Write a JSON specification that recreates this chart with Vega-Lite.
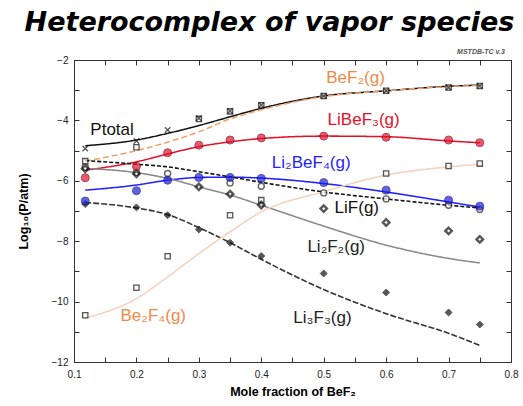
{
  "$schema": "https://vega.github.io/schema/vega-lite/v6.json",
  "width": 437,
  "height": 302,
  "autosize": {"type": "none"},
  "padding": {"left": 74, "top": 60, "right": 12, "bottom": 44},
  "background": "white",
  "title": {
    "text": "Heterocomplex of vapor species",
    "font": "DejaVu Sans",
    "fontSize": 27,
    "fontWeight": "bold",
    "fontStyle": "italic",
    "color": "#000",
    "anchor": "middle",
    "dx": -23,
    "offset": 11
  },
  "config": {
    "view": {"stroke": "#333", "strokeWidth": 1},
    "axis": {
      "grid": false,
      "domain": false,
      "tickSize": -5,
      "tickColor": "#333",
      "labelFont": "Liberation Sans",
      "labelFontSize": 10,
      "labelColor": "#222",
      "titleFont": "Liberation Sans",
      "titleFontSize": 12.5,
      "titleFontWeight": "bold",
      "titleColor": "#000"
    }
  },
  "datasets": {
    "lines": [
      {"s": "Ptotal", "x": 0.118, "y": -4.84}, {"s": "Ptotal", "x": 0.2, "y": -4.65}, {"s": "Ptotal", "x": 0.25, "y": -4.43}, {"s": "Ptotal", "x": 0.3, "y": -4.17}, {"s": "Ptotal", "x": 0.35, "y": -3.88}, {"s": "Ptotal", "x": 0.4, "y": -3.6}, {"s": "Ptotal", "x": 0.5, "y": -3.19}, {"s": "Ptotal", "x": 0.6, "y": -3.02}, {"s": "Ptotal", "x": 0.7, "y": -2.87}, {"s": "Ptotal", "x": 0.75, "y": -2.83},
      {"s": "BeF2", "x": 0.118, "y": -5.35}, {"s": "BeF2", "x": 0.2, "y": -5.0}, {"s": "BeF2", "x": 0.25, "y": -4.72}, {"s": "BeF2", "x": 0.3, "y": -4.38}, {"s": "BeF2", "x": 0.35, "y": -3.95}, {"s": "BeF2", "x": 0.4, "y": -3.65}, {"s": "BeF2", "x": 0.5, "y": -3.21}, {"s": "BeF2", "x": 0.6, "y": -3.02}, {"s": "BeF2", "x": 0.7, "y": -2.88}, {"s": "BeF2", "x": 0.75, "y": -2.84},
      {"s": "LiBeF3", "x": 0.118, "y": -5.65}, {"s": "LiBeF3", "x": 0.2, "y": -5.37}, {"s": "LiBeF3", "x": 0.25, "y": -5.11}, {"s": "LiBeF3", "x": 0.3, "y": -4.87}, {"s": "LiBeF3", "x": 0.35, "y": -4.71}, {"s": "LiBeF3", "x": 0.4, "y": -4.6}, {"s": "LiBeF3", "x": 0.5, "y": -4.52}, {"s": "LiBeF3", "x": 0.6, "y": -4.54}, {"s": "LiBeF3", "x": 0.7, "y": -4.68}, {"s": "LiBeF3", "x": 0.75, "y": -4.74},
      {"s": "Li2BeF4", "x": 0.118, "y": -6.31}, {"s": "Li2BeF4", "x": 0.2, "y": -6.14}, {"s": "Li2BeF4", "x": 0.25, "y": -5.98}, {"s": "Li2BeF4", "x": 0.3, "y": -5.89}, {"s": "Li2BeF4", "x": 0.35, "y": -5.88}, {"s": "Li2BeF4", "x": 0.4, "y": -5.91}, {"s": "Li2BeF4", "x": 0.5, "y": -6.09}, {"s": "Li2BeF4", "x": 0.6, "y": -6.37}, {"s": "Li2BeF4", "x": 0.7, "y": -6.7}, {"s": "Li2BeF4", "x": 0.75, "y": -6.87},
      {"s": "LiF", "x": 0.118, "y": -5.33}, {"s": "LiF", "x": 0.2, "y": -5.45}, {"s": "LiF", "x": 0.25, "y": -5.54}, {"s": "LiF", "x": 0.3, "y": -5.7}, {"s": "LiF", "x": 0.35, "y": -5.87}, {"s": "LiF", "x": 0.4, "y": -6.05}, {"s": "LiF", "x": 0.5, "y": -6.37}, {"s": "LiF", "x": 0.6, "y": -6.6}, {"s": "LiF", "x": 0.7, "y": -6.81}, {"s": "LiF", "x": 0.75, "y": -6.9},
      {"s": "Li2F2", "x": 0.118, "y": -5.59}, {"s": "Li2F2", "x": 0.2, "y": -5.73}, {"s": "Li2F2", "x": 0.25, "y": -5.92}, {"s": "Li2F2", "x": 0.3, "y": -6.2}, {"s": "Li2F2", "x": 0.35, "y": -6.47}, {"s": "Li2F2", "x": 0.4, "y": -6.81}, {"s": "Li2F2", "x": 0.5, "y": -7.5}, {"s": "Li2F2", "x": 0.6, "y": -8.13}, {"s": "Li2F2", "x": 0.7, "y": -8.57}, {"s": "Li2F2", "x": 0.75, "y": -8.72},
      {"s": "Li3F3", "x": 0.118, "y": -6.72}, {"s": "Li3F3", "x": 0.2, "y": -6.9}, {"s": "Li3F3", "x": 0.25, "y": -7.12}, {"s": "Li3F3", "x": 0.3, "y": -7.55}, {"s": "Li3F3", "x": 0.35, "y": -8.05}, {"s": "Li3F3", "x": 0.4, "y": -8.6}, {"s": "Li3F3", "x": 0.5, "y": -9.6}, {"s": "Li3F3", "x": 0.6, "y": -10.4}, {"s": "Li3F3", "x": 0.7, "y": -11.05}, {"s": "Li3F3", "x": 0.75, "y": -11.45},
      {"s": "Be2F4", "x": 0.118, "y": -10.55}, {"s": "Be2F4", "x": 0.2, "y": -9.9}, {"s": "Be2F4", "x": 0.25, "y": -9.18}, {"s": "Be2F4", "x": 0.3, "y": -8.41}, {"s": "Be2F4", "x": 0.35, "y": -7.69}, {"s": "Be2F4", "x": 0.4, "y": -7.03}, {"s": "Be2F4", "x": 0.5, "y": -6.36}, {"s": "Be2F4", "x": 0.6, "y": -5.81}, {"s": "Be2F4", "x": 0.7, "y": -5.54}, {"s": "Be2F4", "x": 0.75, "y": -5.45}
    ],
    "pts": [
      {"s": "Ptotal", "x": 0.118, "y": -4.93}, {"s": "Ptotal", "x": 0.2, "y": -4.68}, {"s": "Ptotal", "x": 0.25, "y": -4.32}, {"s": "Ptotal", "x": 0.3, "y": -3.93}, {"s": "Ptotal", "x": 0.35, "y": -3.69}, {"s": "Ptotal", "x": 0.4, "y": -3.49}, {"s": "Ptotal", "x": 0.5, "y": -3.19}, {"s": "Ptotal", "x": 0.6, "y": -3.02}, {"s": "Ptotal", "x": 0.7, "y": -2.91}, {"s": "Ptotal", "x": 0.75, "y": -2.86},
      {"s": "BeF2", "x": 0.118, "y": -5.35}, {"s": "BeF2", "x": 0.2, "y": -4.89}, {"s": "BeF2", "x": 0.3, "y": -3.95}, {"s": "BeF2", "x": 0.35, "y": -3.7}, {"s": "BeF2", "x": 0.4, "y": -3.5}, {"s": "BeF2", "x": 0.5, "y": -3.19}, {"s": "BeF2", "x": 0.6, "y": -3.02}, {"s": "BeF2", "x": 0.7, "y": -2.91}, {"s": "BeF2", "x": 0.75, "y": -2.86},
      {"s": "LiBeF3", "x": 0.118, "y": -5.9}, {"s": "LiBeF3", "x": 0.2, "y": -5.52}, {"s": "LiBeF3", "x": 0.25, "y": -5.07}, {"s": "LiBeF3", "x": 0.3, "y": -4.82}, {"s": "LiBeF3", "x": 0.35, "y": -4.65}, {"s": "LiBeF3", "x": 0.4, "y": -4.58}, {"s": "LiBeF3", "x": 0.5, "y": -4.52}, {"s": "LiBeF3", "x": 0.6, "y": -4.56}, {"s": "LiBeF3", "x": 0.7, "y": -4.65}, {"s": "LiBeF3", "x": 0.75, "y": -4.74},
      {"s": "Li2BeF4", "x": 0.118, "y": -6.67}, {"s": "Li2BeF4", "x": 0.2, "y": -6.33}, {"s": "Li2BeF4", "x": 0.25, "y": -5.98}, {"s": "Li2BeF4", "x": 0.3, "y": -5.89}, {"s": "Li2BeF4", "x": 0.35, "y": -5.89}, {"s": "Li2BeF4", "x": 0.4, "y": -5.92}, {"s": "Li2BeF4", "x": 0.5, "y": -6.06}, {"s": "Li2BeF4", "x": 0.6, "y": -6.31}, {"s": "Li2BeF4", "x": 0.7, "y": -6.64}, {"s": "Li2BeF4", "x": 0.75, "y": -6.84},
      {"s": "LiF", "x": 0.118, "y": -5.54}, {"s": "LiF", "x": 0.2, "y": -5.72}, {"s": "LiF", "x": 0.25, "y": -5.76}, {"s": "LiF", "x": 0.35, "y": -6.07}, {"s": "LiF", "x": 0.4, "y": -6.18}, {"s": "LiF", "x": 0.5, "y": -6.4}, {"s": "LiF", "x": 0.6, "y": -6.6}, {"s": "LiF", "x": 0.7, "y": -6.81}, {"s": "LiF", "x": 0.75, "y": -6.95},
      {"s": "Li2F2", "x": 0.118, "y": -5.6}, {"s": "Li2F2", "x": 0.2, "y": -5.77}, {"s": "Li2F2", "x": 0.3, "y": -6.2}, {"s": "Li2F2", "x": 0.35, "y": -6.44}, {"s": "Li2F2", "x": 0.4, "y": -6.8}, {"s": "Li2F2", "x": 0.5, "y": -6.92}, {"s": "Li2F2", "x": 0.6, "y": -7.38}, {"s": "Li2F2", "x": 0.7, "y": -7.66}, {"s": "Li2F2", "x": 0.75, "y": -7.94},
      {"s": "Li3F3", "x": 0.118, "y": -6.77}, {"s": "Li3F3", "x": 0.2, "y": -6.88}, {"s": "Li3F3", "x": 0.25, "y": -7.14}, {"s": "Li3F3", "x": 0.3, "y": -7.61}, {"s": "Li3F3", "x": 0.35, "y": -8.05}, {"s": "Li3F3", "x": 0.4, "y": -8.49}, {"s": "Li3F3", "x": 0.5, "y": -9.07}, {"s": "Li3F3", "x": 0.6, "y": -9.7}, {"s": "Li3F3", "x": 0.7, "y": -10.36}, {"s": "Li3F3", "x": 0.75, "y": -10.76},
      {"s": "Be2F4", "x": 0.118, "y": -10.45}, {"s": "Be2F4", "x": 0.2, "y": -9.54}, {"s": "Be2F4", "x": 0.25, "y": -8.5}, {"s": "Be2F4", "x": 0.35, "y": -7.14}, {"s": "Be2F4", "x": 0.4, "y": -6.64}, {"s": "Be2F4", "x": 0.6, "y": -5.76}, {"s": "Be2F4", "x": 0.7, "y": -5.51}, {"s": "Be2F4", "x": 0.75, "y": -5.43}
    ],
    "labels": [
      {"s": "Ptotal", "t": "Ptotal", "x": 0.161, "y": -4.32},
      {"s": "BeF2", "t": "BeF₂(g)", "x": 0.551, "y": -2.6},
      {"s": "LiBeF3", "t": "LiBeF₃(g)", "x": 0.564, "y": -3.99},
      {"s": "Li2BeF4", "t": "Li₂BeF₄(g)", "x": 0.48, "y": -5.41},
      {"s": "LiF", "t": "LiF(g)", "x": 0.553, "y": -6.9},
      {"s": "Li2F2", "t": "Li₂F₂(g)", "x": 0.52, "y": -8.2},
      {"s": "Li3F3", "t": "Li₃F₃(g)", "x": 0.498, "y": -10.55},
      {"s": "Be2F4", "t": "Be₂F₄(g)", "x": 0.227, "y": -10.49}
    ],
    "note": [
      {"t": "MSTDB-TC v.3", "x": 0.752, "y": -1.72}
    ]
  },
  "resolve": {"scale": {"color": "independent"}, "axis": {"x": "independent", "y": "independent"}},
  "layer": [
    {
      "data": {"name": "lines"},
      "mark": {"type": "line", "interpolate": "monotone", "clip": true},
      "encoding": {
        "x": {"field": "x", "type": "quantitative", "scale": {"domain": [0.1, 0.8], "nice": false, "zero": false},
          "axis": {"orient": "bottom", "title": "Mole fraction of BeF₂", "values": [0.1,0.15,0.2,0.25,0.3,0.35,0.4,0.45,0.5,0.55,0.6,0.65,0.7,0.75,0.8],
            "labelExpr": "abs(datum.value*10 - round(datum.value*10)) < 0.001 ? format(datum.value, '.1f') : ''", "labelPadding": 12, "titlePadding": 6, "labelFlush": false}},
        "y": {"field": "y", "type": "quantitative", "scale": {"domain": [-12, -2], "nice": false, "zero": false},
          "axis": {"orient": "left", "title": "Log₁₀(P/atm)", "values": [-12,-11,-10,-9,-8,-7,-6,-5,-4,-3,-2],
            "labelExpr": "datum.value % 2 == 0 ? datum.label : ''", "labelPadding": 11, "titlePadding": 21}},
        "color": {"field": "s", "type": "nominal", "legend": null,
          "scale": {"domain": ["Ptotal","BeF2","LiBeF3","Li2BeF4","LiF","Li2F2","Li3F3","Be2F4"],
                    "range": ["#111111","#f2a066","#e3102c","#1f1fff","#111111","#8a8a8a","#333333","#f5d3bd"]}},
        "strokeDash": {"field": "s", "type": "nominal", "legend": null,
          "scale": {"domain": ["Ptotal","BeF2","LiBeF3","Li2BeF4","LiF","Li2F2","Li3F3","Be2F4"],
                    "range": [[1,0],[6,3],[1,0],[1,0],[4,2],[1,0],[6,2],[1,0]]}},
        "strokeWidth": {"field": "s", "type": "nominal", "legend": null,
          "scale": {"domain": ["Ptotal","BeF2","LiBeF3","Li2BeF4","LiF","Li2F2","Li3F3","Be2F4"],
                    "range": [1.5,1.6,2,1.6,1.5,1,1.2,1.3]}}
      }
    },
    {
      "data": {"name": "pts"},
      "transform": [{"filter": "datum.s == 'Be2F4' || datum.s == 'BeF2'"}],
      "mark": {"type": "point", "shape": "square", "filled": true, "fill": "#f4f4f4", "stroke": "#111", "strokeWidth": 1.3, "size": 28},
      "encoding": {"x": {"field": "x", "type": "quantitative", "axis": null}, "y": {"field": "y", "type": "quantitative", "axis": null}}
    },
    {
      "data": {"name": "pts"},
      "transform": [{"filter": "datum.s == 'Ptotal'"}],
      "mark": {"type": "point", "shape": "M-1,-1L1,1M-1,1L1,-1", "filled": false, "stroke": "#111", "strokeWidth": 1.3, "size": 30},
      "encoding": {"x": {"field": "x", "type": "quantitative", "axis": null}, "y": {"field": "y", "type": "quantitative", "axis": null}}
    },
    {
      "data": {"name": "pts"},
      "transform": [{"filter": "datum.s == 'LiF'"}],
      "mark": {"type": "point", "shape": "circle", "filled": true, "fill": "#ffffff", "stroke": "#222", "strokeWidth": 1.4, "size": 36},
      "encoding": {"x": {"field": "x", "type": "quantitative", "axis": null}, "y": {"field": "y", "type": "quantitative", "axis": null}}
    },
    {
      "data": {"name": "pts"},
      "transform": [{"filter": "datum.s == 'Li2F2'"}],
      "mark": {"type": "point", "shape": "diamond", "filled": true, "fill": "#ffffff", "stroke": "#111", "strokeWidth": 2.4, "size": 42},
      "encoding": {"x": {"field": "x", "type": "quantitative", "axis": null}, "y": {"field": "y", "type": "quantitative", "axis": null}}
    },
    {
      "data": {"name": "pts"},
      "transform": [{"filter": "datum.s == 'Li3F3'"}],
      "mark": {"type": "point", "shape": "diamond", "filled": true, "fill": "#111", "stroke": "#111", "strokeWidth": 1, "size": 48},
      "encoding": {"x": {"field": "x", "type": "quantitative", "axis": null}, "y": {"field": "y", "type": "quantitative", "axis": null}}
    },
    {
      "data": {"name": "pts"},
      "transform": [{"filter": "datum.s == 'LiBeF3'"}],
      "mark": {"type": "point", "shape": "circle", "filled": true, "fill": "#e8102c", "stroke": "#7a0010", "strokeWidth": 1, "size": 64},
      "encoding": {"x": {"field": "x", "type": "quantitative", "axis": null}, "y": {"field": "y", "type": "quantitative", "axis": null}}
    },
    {
      "data": {"name": "pts"},
      "transform": [{"filter": "datum.s == 'Li2BeF4'"}],
      "mark": {"type": "point", "shape": "circle", "filled": true, "fill": "#1f1fe8", "stroke": "#0a0a70", "strokeWidth": 1, "size": 64},
      "encoding": {"x": {"field": "x", "type": "quantitative", "axis": null}, "y": {"field": "y", "type": "quantitative", "axis": null}}
    },
    {
      "data": {"name": "labels"},
      "mark": {"type": "text", "font": "Liberation Sans", "fontSize": 17, "align": "center", "baseline": "middle"},
      "encoding": {
        "x": {"field": "x", "type": "quantitative", "axis": null},
        "y": {"field": "y", "type": "quantitative", "axis": null},
        "text": {"field": "t"},
        "color": {"field": "s", "type": "nominal", "legend": null,
          "scale": {"domain": ["Ptotal","BeF2","LiBeF3","Li2BeF4","LiF","Li2F2","Li3F3","Be2F4"],
                    "range": ["#111111","#f08a48","#e3102c","#1f1fff","#111111","#222222","#222222","#f08a48"]}}
      }
    },
    {
      "data": {"name": "note"},
      "mark": {"type": "text", "font": "Liberation Sans", "fontSize": 7, "fontWeight": "bold", "fontStyle": "italic", "color": "#555", "align": "center", "baseline": "middle", "clip": false},
      "encoding": {
        "x": {"field": "x", "type": "quantitative",
          "axis": {"orient": "top", "title": null, "labels": false, "values": [0.1,0.15,0.2,0.25,0.3,0.35,0.4,0.45,0.5,0.55,0.6,0.65,0.7,0.75,0.8]}},
        "y": {"field": "y", "type": "quantitative",
          "axis": {"orient": "right", "title": null, "labels": false, "values": [-12,-11,-10,-9,-8,-7,-6,-5,-4,-3,-2]}},
        "text": {"field": "t"}
      }
    }
  ]
}
